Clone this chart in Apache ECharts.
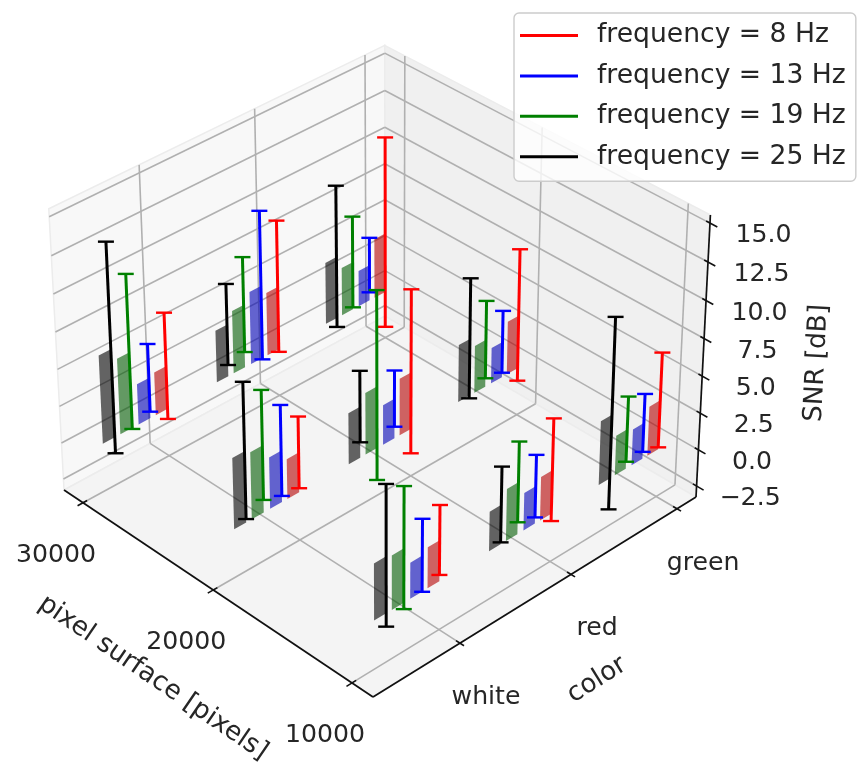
<!DOCTYPE html>
<html>
<head>
<meta charset="utf-8">
<style>html,body{margin:0;padding:0;background:#fff}#main{width:859px;height:763px;filter:blur(0.45px)}</style>
<script src="https://cdn.jsdelivr.net/npm/echarts@6/dist/echarts.min.js"></script>
</head>
<body>
<div id="main"></div>
<script>
// ---- data ----
const surfaceTicks = [10000, 20000, 30000];
const colorTicks = ['white', 'red', 'green'];
const zTicks = [-2.5, 0, 2.5, 5, 7.5, 10, 12.5, 15];
const frequencies = [8, 13, 19, 25];
// values run over surface 10000, 20000, 30000 and inside each over white, red, green
const mean8  = [2.73, 2.93, 3.33, 2.69, 3.86, 3.64, 2.93, 4.32, 4.11];
const err8   = [2.31, 3.43, 3.20, 2.41, 5.55, 4.51, 3.63, 4.51, 6.60];
const mean13 = [2.40, 2.51, 2.43, 3.46, 2.70, 2.44, 2.75, 4.98, 2.48];
const err13  = [2.41, 2.09, 1.96, 3.04, 1.91, 2.13, 2.31, 5.08, 1.91];
const mean19 = [3.60, 3.48, 2.68, 4.50, 4.19, 3.23, 5.14, 4.31, 3.30];
const err19  = [4.03, 2.68, 2.20, 3.65, 6.39, 2.65, 5.22, 3.25, 3.16];
const mean25 = [3.77, 2.65, 4.31, 4.77, 3.46, 3.91, 5.97, 3.56, 4.25];
const err25  = [4.66, 2.52, 6.43, 4.54, 2.41, 4.09, 7.08, 2.78, 4.89];

// ---- camera ----
const VP1 = [-4035, -2256], VP2 = [5236, -2313], VP3 = [390, 6500], ORIGIN = [373, 697];
const KU = 0.07538, KV = 0.07115, KW = -0.04807;
const S0 = 8541, SR = 22973, Z0 = -3.266, ZR = 18.78, V0 = 0.256, VS = 0.3407;
const box = (u, v, w) => {
  const W = 1 + u * KU + v * KV + w * KW;
  return [
    (ORIGIN[0] + u * KU * VP1[0] + v * KV * VP2[0] + w * KW * VP3[0]) / W,
    (ORIGIN[1] + u * KU * VP1[1] + v * KV * VP2[1] + w * KW * VP3[1]) / W
  ];
};
const uOf = s => (s - S0) / SR;
const vOf = c => V0 + VS * c;
const wOf = z => (z - Z0) / ZR;
const project = (s, c, z) => box(uOf(s), vOf(c), wOf(z));

// ---- style ----
const TICK_FONT = '25.2px "DejaVu Sans"';
const NAME_FONT = '26.2px "DejaVu Sans"';
const TXT = '#262626';
const freqStyle = [
  { line: '#ff0000', bar: 'rgba(180,0,0,0.6)', off: 0 },
  { line: '#0000ff', bar: 'rgba(0,0,180,0.6)', off: -0.15 },
  { line: '#008000', bar: 'rgba(0,90,0,0.6)', off: -0.308 },
  { line: '#000000', bar: 'rgba(0,0,0,0.6)', off: -0.459 }
];
const BAR_W = 0.103;

function frameItem(params, api) {
  const P = (u, v, w) => api.coord(box(u, v, w));
  const ch = [];
  const poly = (pts, fill) => ch.push({ type: 'polygon', shape: { points: pts }, style: { fill, stroke: '#ececec', lineWidth: 1.5 } });
  const line = (a, b, stroke, lw) => ch.push({ type: 'line', shape: { x1: a[0], y1: a[1], x2: b[0], y2: b[1] }, style: { stroke, lineWidth: lw } });
  const text = (t, at, rot, font) => ch.push({ type: 'text', x: at[0], y: at[1], rotation: rot || 0, style: { text: t, x: 0, y: 0, font: font || TICK_FONT, fill: TXT, align: 'center', verticalAlign: 'middle' } });
  const GRID = '#b0b0b0', AX = '#111111';

  poly([P(1, 0, 0), P(1, 1, 0), P(1, 1, 1), P(1, 0, 1)], '#f8f8f8');
  poly([P(0, 1, 0), P(1, 1, 0), P(1, 1, 1), P(0, 1, 1)], '#f0f0f0');
  poly([P(0, 0, 0), P(0, 1, 0), P(1, 1, 0), P(1, 0, 0)], '#f4f4f4');

  zTicks.forEach(z => {
    const w = wOf(z);
    line(P(1, 0, w), P(1, 1, w), GRID, 1.6);
    line(P(1, 1, w), P(0, 1, w), GRID, 1.6);
  });
  surfaceTicks.forEach(s => {
    const u = uOf(s);
    line(P(u, 0, 0), P(u, 1, 0), GRID, 1.6);
    line(P(u, 1, 0), P(u, 1, 1), GRID, 1.6);
  });
  colorTicks.forEach((n, i) => {
    const v = vOf(i);
    line(P(0, v, 0), P(1, v, 0), GRID, 1.6);
    line(P(1, v, 0), P(1, v, 1), GRID, 1.6);
  });

  line(P(1, 0, 0), P(0, 0, 0), AX, 1.7);
  line(P(0, 0, 0), P(0, 1, 0), AX, 1.7);
  line(P(0, 1, 0), P(0, 1, 1), AX, 1.7);

  surfaceTicks.forEach(s => {
    const u = uOf(s), p = P(u, 0, 0);
    line(P(u, -0.016, 0), P(u, 0.012, 0), AX, 1.6);
    text(String(s), [p[0] - 27, p[1] + 52.5]);
  });
  colorTicks.forEach((n, i) => {
    const v = vOf(i), p = P(0, v, 0);
    line(P(-0.012, v, 0), P(0.012, v, 0), AX, 1.6);
    text(n, [p[0] + 26, p[1] + 54.5]);
  });
  zTicks.forEach(z => {
    const w = wOf(z), p = P(0, 1, w);
    line(P(0.011, 1, w), P(-0.021, 1, w), AX, 1.6);
    text(z.toFixed(1).replace('-', '\u2212'), [p[0] + 53.5, p[1] + 12.5]);
  });

  const b = (f, g) => api.coord([f, g]);
  text('pixel surface [pixels]', b(153, 678), -0.6, NAME_FONT);
  text('color', b(597, 680), 0.56, NAME_FONT);
  text('SNR [dB]', b(817, 363), 1.52, NAME_FONT);
  return { type: 'group', children: ch };
}

function freqItem(k) {
  return function (params, api) {
    const s = api.value(0), c = api.value(1), m = api.value(2), e = api.value(3);
    const st = freqStyle[k], cc = c + st.off;
    const P = (cv, z) => api.coord(project(s, cv, z));
    const top = P(cc, m + e), bot = P(cc, m - e);
    const seg = (a, b, lw) => ({ type: 'line', shape: { x1: a[0], y1: a[1], x2: b[0], y2: b[1] }, style: { stroke: st.line, lineWidth: lw } });
    return {
      type: 'group',
      children: [
        { type: 'polygon', shape: { points: [P(cc - BAR_W, 0), P(cc, 0), P(cc, m), P(cc - BAR_W, m)] }, style: { fill: st.bar } },
        seg(top, bot, 3),
        seg([top[0] - 8, top[1]], [top[0] + 8, top[1]], 2.4),
        seg([bot[0] - 8, bot[1]], [bot[0] + 8, bot[1]], 2.4)
      ]
    };
  };
}

const rows = (means, errs) => {
  const out = [];
  surfaceTicks.forEach((s, i) => colorTicks.forEach((n, j) => {
    const q = i * colorTicks.length + j;
    out.push([s, j, means[q], errs[q]]);
  }));
  return out.reverse();
};
const freqData = [rows(mean8, err8), rows(mean13, err13), rows(mean19, err19), rows(mean25, err25)];
const freqName = f => 'frequency = ' + f + ' Hz';

const chart = echarts.init(document.getElementById('main'), null, { renderer: 'canvas' });
chart.setOption({
  animation: false,
  backgroundColor: '#ffffff',
  grid: { left: 0, right: 0, top: 0, bottom: 0 },
  xAxis: { type: 'value', min: 0, max: 859, show: false },
  yAxis: { type: 'value', min: 0, max: 763, inverse: true, show: false },
  legend: {
    left: 514, top: 13,
    orient: 'vertical',
    selectedMode: false,
    backgroundColor: 'rgba(255,255,255,0.8)',
    borderColor: '#cccccc', borderWidth: 1.4, borderRadius: 5,
    padding: [9, 10, 11, 6],
    itemWidth: 58, itemHeight: 3, itemGap: 13.4,
    textStyle: { fontSize: 26.6, fontFamily: 'DejaVu Sans', color: TXT, padding: [0, 0, 0, 14], lineHeight: 27 },
    data: frequencies.map((f, i) => ({ name: freqName(f), icon: 'rect', itemStyle: { color: freqStyle[i].line } }))
  },
  series: [
    { type: 'custom', name: 'frame', coordinateSystem: 'cartesian2d', silent: true, clip: false, data: [[0, 0]], renderItem: frameItem, z: 1 }
  ].concat(frequencies.map((f, k) => ({
    type: 'custom', name: freqName(f), coordinateSystem: 'cartesian2d', silent: true, clip: false,
    itemStyle: { color: freqStyle[k].line },
    data: freqData[k], encode: { x: 0, y: 2 }, renderItem: freqItem(k), z: 2
  })))
});
</script>
</body>
</html>
